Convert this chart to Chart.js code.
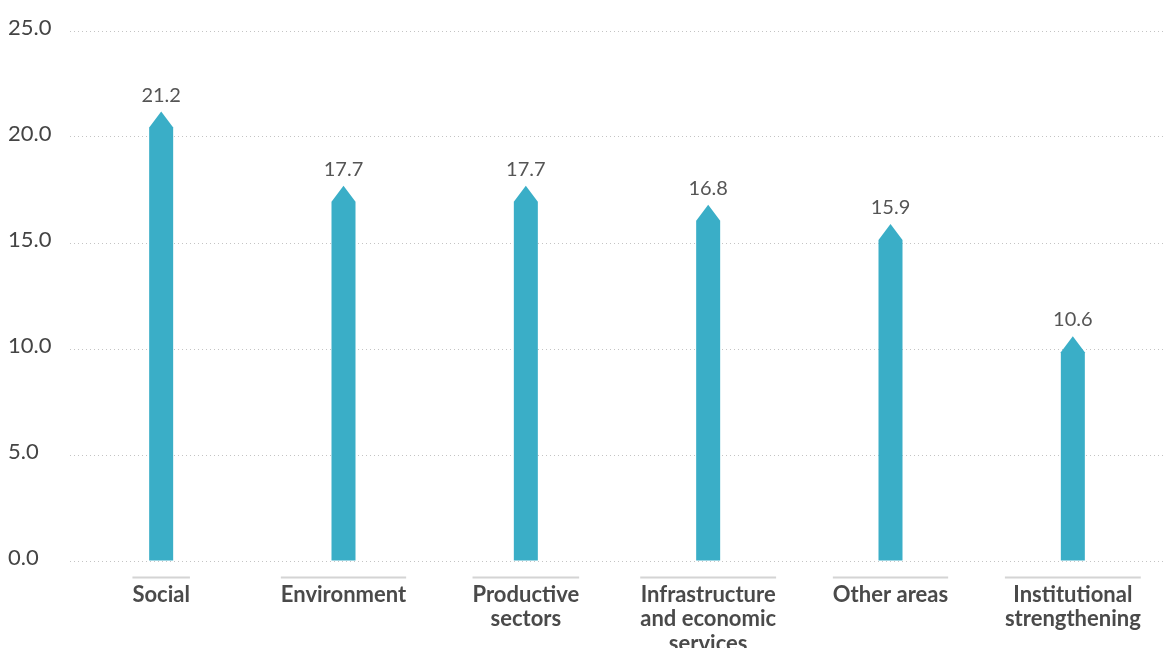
<!DOCTYPE html>
<html>
<head>
<meta charset="utf-8">
<script src="https://cdn.jsdelivr.net/npm/chart.js@4"></script>
<style>
  html, body { margin: 0; padding: 0; background: #fff; }
  #wrap { width: 1164px; height: 648px; position: relative; }
</style>
</head>
<body>
<div id="wrap"><canvas id="chart"></canvas></div>
<script>
  // Share by area, per cent.
  var categories = [
    'Social',
    'Environment',
    ['Productive', 'sectors'],
    ['Infrastructure', 'and economic', 'services'],
    'Other areas',
    ['Institutional', 'strengthening']
  ];
  var shares = [21.2, 17.7, 17.7, 16.8, 15.9, 10.6];
  var yTicks = [0, 5, 10, 15, 20, 25];

  var barColor = '#3aaec7';

  // Bars are drawn as arrows: a body with a pointed head ending at the value.
  var arrowBars = {
    id: 'arrowBars',
    afterDatasetsDraw: function (chart) {
      var ctx = chart.ctx;
      var meta = chart.getDatasetMeta(0);
      var values = chart.data.datasets[0].data;
      ctx.save();
      meta.data.forEach(function (bar, i) {
        var p = bar.getProps(['x', 'y', 'base', 'width'], true);
        var half = p.width / 2;
        var head = 16;
        ctx.beginPath();
        ctx.moveTo(p.x - half, p.base);
        ctx.lineTo(p.x - half, p.y + head);
        ctx.lineTo(p.x, p.y);
        ctx.lineTo(p.x + half, p.y + head);
        ctx.lineTo(p.x + half, p.base);
        ctx.closePath();
        ctx.fillStyle = barColor;
        ctx.fill();

        ctx.font = '20px Lato';
        ctx.fillStyle = '#555';
        ctx.textAlign = 'center';
        ctx.textBaseline = 'alphabetic';
        ctx.fillText(values[i].toFixed(1), p.x, p.y - 10);
      });
      ctx.restore();
    }
  };

  // Grey rule above every category label, as wide as the label.
  var labelRules = {
    id: 'labelRules',
    afterDraw: function (chart) {
      var ctx = chart.ctx;
      var xScale = chart.scales.x;
      var y = chart.chartArea.bottom + 16.5;
      ctx.save();
      ctx.font = 'bold 22px Lato';
      ctx.strokeStyle = '#d4d4d4';
      ctx.lineWidth = 2;
      categories.forEach(function (label, i) {
        var lines = Array.isArray(label) ? label : [label];
        var w = Math.max.apply(null, lines.map(function (t) { return ctx.measureText(t).width; }));
        var x = xScale.getPixelForTick(i);
        ctx.beginPath();
        ctx.moveTo(x - w / 2, y);
        ctx.lineTo(x + w / 2, y);
        ctx.stroke();
      });
      ctx.restore();
    }
  };

  new Chart(document.getElementById('chart').getContext('2d'), {
    type: 'bar',
    data: {
      labels: categories,
      datasets: [{
        data: shares,
        backgroundColor: 'rgba(0,0,0,0)',
        barThickness: 24
      }]
    },
    options: {
      responsive: true,
      maintainAspectRatio: false,
      animation: false,
      layout: { padding: { top: 31, left: 8, right: 0, bottom: 0 } },
      plugins: {
        legend: { display: false },
        tooltip: { enabled: false }
      },
      scales: {
        x: {
          grid: { display: false },
          border: { display: false },
          ticks: {
            color: '#4a4a4a',
            padding: 14,
            maxRotation: 0,
            autoSkip: false,
            font: { family: 'Lato', size: 22, weight: 'bold', lineHeight: 1.1 }
          },
          afterFit: function (scale) { scale.height = 87; }
        },
        y: {
          min: 0,
          max: 25,
          afterBuildTicks: function (scale) {
            scale.ticks = yTicks.map(function (v) { return { value: v }; });
          },
          grid: {
            color: '#c4c4c4',
            lineWidth: 1,
            drawTicks: false
          },
          border: { display: false, dash: [1, 3] },
          ticks: {
            color: '#444',
            crossAlign: 'far',
            padding: 0,
            labelOffset: -3,
            font: { family: 'Lato', size: 22 },
            callback: function (v) { return Number(v).toFixed(1); }
          },
          afterFit: function (scale) { scale.width = 62; }
        }
      }
    },
    plugins: [arrowBars, labelRules]
  });
</script>
</body>
</html>
